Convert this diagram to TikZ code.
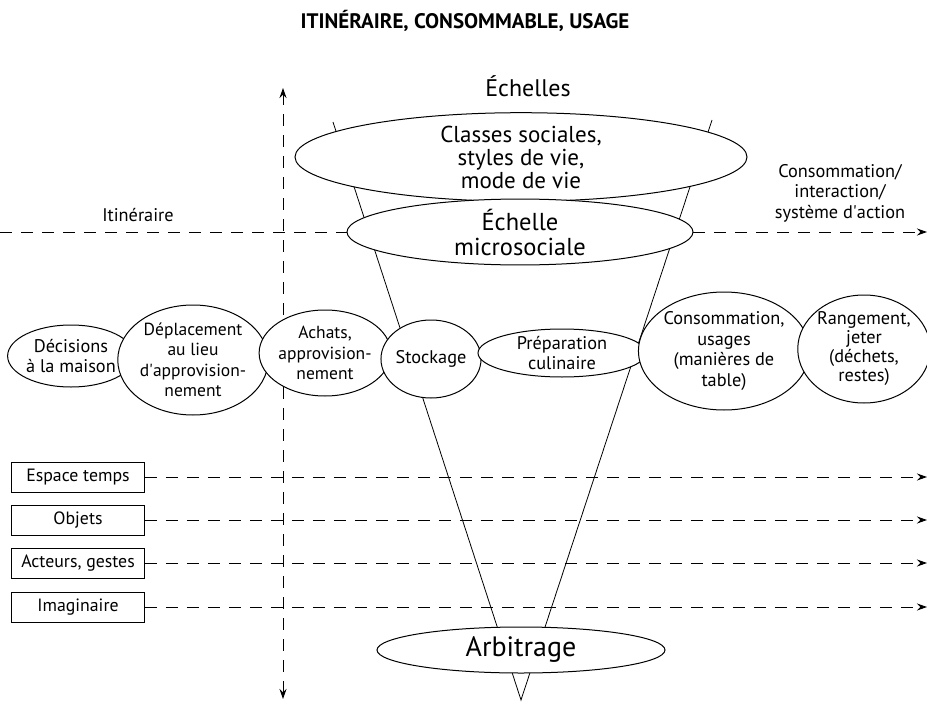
\documentclass[tikz,border=0pt]{standalone}
\usepackage{fontspec}
\setmainfont{PT Sans}
\usetikzlibrary{shapes.geometric,arrows.meta}
\begin{document}
\begin{tikzpicture}[x=1pt,y=-1pt,
  ell/.style={ellipse,draw,fill=white,line width=1pt,inner sep=0pt,align=center,
    font=\fontsize{18.3}{20.5}\selectfont},
  bigell/.style={ell,font=\fontsize{23}{23}\selectfont},
  lbox/.style={draw,line width=0.9pt,minimum width=133pt,minimum height=30pt,inner sep=0pt,
    font=\fontsize{17.8}{20}\selectfont},
  dline/.style={dash pattern=on 12pt off 9pt,line width=0.9pt},
  tip/.style={-{Stealth[length=10pt,width=7pt]}},
  lbl/.style={align=center,inner sep=0pt,font=\fontsize{18.3}{20.5}\selectfont},
]
\useasboundingbox (0,0) rectangle (927,704);

% title
\node[font=\bfseries\fontsize{21}{24}\selectfont] (title) at (465,21) {ITINÉRAIRE, CONSOMMABLE, USAGE};
\node[font=\fontsize{24}{26}\selectfont] (ech) at (528,86) {Échelles};

% axes
\coordinate (vtop) at (283,88);
\coordinate (vbot) at (283,699);
\coordinate (hl) at (0,232);
\coordinate (hr) at (927,232);
\draw[dline,{Stealth[length=10pt,width=7pt]}-{Stealth[length=10pt,width=7pt]}] (vbot) -- (vtop);
\draw[dline,tip] (hl) -- (hr);

\node[lbl] (itin) at (138,215) {Itinéraire};
\node[lbl] (conso) at (840,193) {Consommation/\\interaction/\\système d\textquotesingle action};

% funnel
\coordinate (fl) at (333,122);
\coordinate (fr) at (712,120);
\coordinate (ftip) at (521,700);
\draw[line width=0.8pt] (fl) -- (ftip) -- (fr);

% left boxes with dashed arrows
\node[lbox] (b1) at (78,477) {Espace temps};
\node[lbox] (b2) at (78,520) {Objets};
\node[lbox] (b3) at (78,563) {Acteurs, gestes};
\node[lbox] (b4) at (78,607) {Imaginaire};
\coordinate (e1) at (927,477);
\coordinate (e2) at (927,520);
\coordinate (e3) at (927,563);
\coordinate (e4) at (927,607);
\draw[dline,tip] (b1.east) -- (e1);
\draw[dline,tip] (b2.east) -- (e2);
\draw[dline,tip] (b3.east) -- (e3);
\draw[dline,tip] (b4.east) -- (e4);

% scale ellipses
\node[bigell,minimum width=452pt,minimum height=76pt] (classes) at (521,157)
  {Classes sociales,\\styles de vie,\\mode de vie};
\node[bigell,font=\fontsize{24.5}{25}\selectfont,minimum width=346pt,minimum height=54pt] (micro) at (520,232)
  {Échelle\\microsociale};
\node[bigell,font=\fontsize{28}{28}\selectfont,minimum width=288pt,minimum height=46pt] (arb) at (521,650)
  {Arbitrage};

% itinerary ellipses
\node[ell,minimum width=122pt,minimum height=62pt] (dec) at (71,356) {Décisions\\à la maison};
\node[ell,font=\fontsize{17.5}{20.5}\selectfont,minimum width=126pt,minimum height=110pt] (dep) at (193,360) {Déplacement\\au lieu\\d\textquotesingle approvision-\\nement};
\node[ell,font=\fontsize{17.5}{20.5}\selectfont,minimum width=124pt,minimum height=86pt] (ach) at (325,353) {Achats,\\approvision-\\nement};
\node[ell,minimum width=88pt,minimum height=78pt] (sto) at (431,359) {Stockage};
\node[ell,minimum width=168pt,minimum height=48pt] (prep) at (562,353) {Préparation\\culinaire};
\node[ell,minimum width=156pt,minimum height=118pt] (cons) at (724,351) {Consommation,\\usages\\(manières de\\table)};
\node[ell,font=\fontsize{18.3}{19}\selectfont,minimum width=124pt,minimum height=108pt] (rang) at (864,349) {Rangement,\\jeter\\(déchets,\\restes)};
\end{tikzpicture}
\end{document}
